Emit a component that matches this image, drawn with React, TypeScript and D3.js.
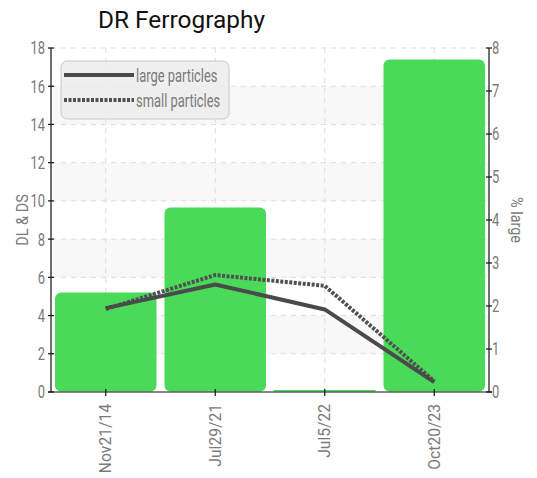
import { useEffect, useRef } from 'react';
import * as d3 from 'd3';

const categories = ['Nov21/14', 'Jul29/21', 'Jul5/22', 'Oct20/23'];
const barValues = [5.2, 9.65, 0.08, 17.4];
const largeParticles = [1.95, 2.5, 1.92, 0.23];
const smallParticles = [1.93, 2.72, 2.47, 0.25];
const leftTicks = [0, 2, 4, 6, 8, 10, 12, 14, 16, 18];
const rightTicks = [0, 1, 2, 3, 4, 5, 6, 7, 8];
const legendItems = ['large particles', 'small particles'];

const W = 537;
const H = 478;
const FONT = 'Roboto, sans-serif';
const GRAY = '#7a7a7a';
const NARROW = 0.72;

export default function App() {
  const svgRef = useRef<SVGSVGElement>(null);

  useEffect(() => {
    if (!svgRef.current) return;
    const svg = d3.select(svgRef.current);
    svg.selectAll('*').remove();

    const m = { left: 51, right: 489, top: 48, bottom: 392 };

    const x = d3.scaleBand<string>().domain(categories).range([m.left, m.right]).padding(0);
    const yL = d3.scaleLinear().domain([0, 18]).range([m.bottom, m.top]);
    const yR = d3.scaleLinear().domain([0, 8]).range([m.bottom, m.top]);
    const cx = (c: string) => x(c)! + x.bandwidth() / 2;

    // alternating bands
    const bands = svg.append('g');
    for (let i = 0; i < leftTicks.length - 1; i++) {
      if (i % 2 === 1) {
        bands.append('rect')
          .attr('x', m.left)
          .attr('width', m.right - m.left)
          .attr('y', yL(leftTicks[i + 1]))
          .attr('height', yL(leftTicks[i]) - yL(leftTicks[i + 1]))
          .attr('fill', '#f8f8f8');
      }
    }

    // grid
    const grid = svg.append('g')
      .attr('stroke', '#ddd')
      .attr('stroke-dasharray', '5,5');
    leftTicks.slice(1).forEach((t) => {
      grid.append('line')
        .attr('x1', m.left).attr('x2', m.right)
        .attr('y1', yL(t)).attr('y2', yL(t));
    });
    categories.forEach((c) => {
      grid.append('line')
        .attr('x1', cx(c)).attr('x2', cx(c))
        .attr('y1', m.top).attr('y2', m.bottom);
    });

    // bars
    const pad = 4;
    svg.append('g')
      .selectAll('path')
      .data(categories)
      .join('path')
      .attr('fill', '#48da58')
      .attr('d', (c, i) => {
        const x0 = x(c)! + pad;
        const w = x.bandwidth() - pad * 2;
        const yb = m.bottom - 0.5;
        const y0 = Math.min(yL(barValues[i]), yb - 1.5);
        const h = yb - y0;
        const r = Math.max(0, Math.min(6, h / 2 - 0.5));
        const p = d3.path();
        p.moveTo(x0 + r, y0);
        p.lineTo(x0 + w - r, y0);
        p.arcTo(x0 + w, y0, x0 + w, y0 + r, r);
        p.lineTo(x0 + w, y0 + h - r);
        p.arcTo(x0 + w, y0 + h, x0 + w - r, y0 + h, r);
        p.lineTo(x0 + r, y0 + h);
        p.arcTo(x0, y0 + h, x0, y0 + h - r, r);
        p.lineTo(x0, y0 + r);
        p.arcTo(x0, y0, x0 + r, y0, r);
        p.closePath();
        return p.toString();
      });

    // lines
    const line = d3.line<number>()
      .x((_, i) => cx(categories[i]))
      .y((d) => yR(d));

    svg.append('path')
      .attr('d', line(smallParticles))
      .attr('fill', 'none')
      .attr('stroke', '#505050')
      .attr('stroke-width', 4)
      .attr('stroke-dasharray', '3,1.5');
    svg.append('path')
      .attr('d', line(largeParticles))
      .attr('fill', 'none')
      .attr('stroke', '#4a4a4a')
      .attr('stroke-width', 4)
      .attr('stroke-linejoin', 'round');

    // axes
    const axes = svg.append('g').attr('stroke', '#111').attr('stroke-width', 1.2);
    axes.append('line').attr('x1', m.left).attr('x2', m.left).attr('y1', m.top).attr('y2', m.bottom);
    axes.append('line').attr('x1', m.right).attr('x2', m.right).attr('y1', m.top).attr('y2', m.bottom);
    axes.append('line').attr('x1', m.left - 3).attr('x2', m.right + 3).attr('y1', m.bottom).attr('y2', m.bottom);
    leftTicks.forEach((t) => {
      axes.append('line').attr('x1', m.left - 3).attr('x2', m.left + 3).attr('y1', yL(t)).attr('y2', yL(t));
    });
    rightTicks.forEach((t) => {
      axes.append('line').attr('x1', m.right - 3).attr('x2', m.right + 3).attr('y1', yR(t)).attr('y2', yR(t));
    });
    categories.forEach((c) => {
      axes.append('line').attr('x1', cx(c)).attr('x2', cx(c)).attr('y1', m.bottom - 3).attr('y2', m.bottom + 4);
    });

    const text = svg.append('g').attr('font-family', FONT).attr('fill', GRAY);
    leftTicks.forEach((t) => {
      text.append('text')
        .attr('transform', `translate(${m.left - 6},${yL(t)}) scale(${NARROW},1)`)
        .attr('dy', '0.36em')
        .attr('text-anchor', 'end').attr('font-size', 18)
        .text(t);
    });
    rightTicks.forEach((t) => {
      text.append('text')
        .attr('transform', `translate(${m.right + 3},${yR(t)}) scale(${NARROW},1)`)
        .attr('dy', '0.36em')
        .attr('font-size', 18)
        .text(t);
    });
    categories.forEach((c) => {
      text.append('text')
        .attr('transform', `translate(${cx(c) + 5.5},${m.bottom + 12}) rotate(-90) scale(0.92,1)`)
        .attr('text-anchor', 'end').attr('font-size', 17)
        .text(c);
    });
    text.append('text')
      .attr('transform', `translate(27.5,${(m.top + m.bottom) / 2}) rotate(-90) scale(0.85,1)`)
      .attr('text-anchor', 'middle').attr('font-size', 17)
      .text('DL & DS');
    text.append('text')
      .attr('transform', `translate(511,${(m.top + m.bottom) / 2}) rotate(90) scale(0.85,1)`)
      .attr('text-anchor', 'middle').attr('font-size', 17)
      .text('% large');

    // title
    svg.append('text')
      .attr('x', 98).attr('y', 28)
      .attr('font-family', FONT)
      .attr('font-size', 24)
      .attr('textLength', 167)
      .attr('lengthAdjust', 'spacingAndGlyphs')
      .attr('fill', '#111')
      .text('DR Ferrography');

    // legend
    const lg = svg.append('g');
    lg.append('rect')
      .attr('x', 61).attr('y', 61).attr('width', 168).attr('height', 58)
      .attr('rx', 6)
      .attr('fill', '#ececec').attr('fill-opacity', 0.85)
      .attr('stroke', '#c8c8c8');
    lg.append('line')
      .attr('x1', 64).attr('x2', 134).attr('y1', 75).attr('y2', 75)
      .attr('stroke', '#4a4a4a').attr('stroke-width', 4);
    lg.append('line')
      .attr('x1', 64).attr('x2', 134).attr('y1', 100).attr('y2', 100)
      .attr('stroke', '#505050').attr('stroke-width', 4).attr('stroke-dasharray', '3,1.5');
    legendItems.forEach((s, i) => {
      lg.append('text')
        .attr('transform', `translate(136,${75 + i * 25}) scale(0.68,1)`)
        .attr('dy', '0.36em')
        .attr('font-family', FONT).attr('font-size', 19).attr('fill', GRAY)
        .text(s);
    });
  }, []);

  return (
    <svg
      ref={svgRef}
      width={W}
      height={H}
      style={{ position: 'absolute', left: 0, top: 0, background: '#fff' }}
    />
  );
}
